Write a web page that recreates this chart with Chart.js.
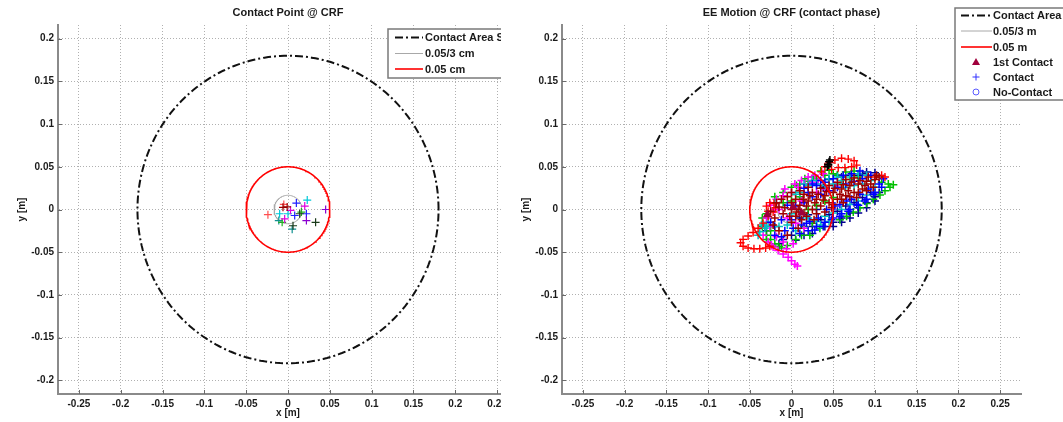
<!DOCTYPE html>
<html>
<head>
<meta charset="utf-8">
<script src="https://cdn.jsdelivr.net/npm/chart.js@4.4.1/dist/chart.umd.min.js"></script>
<style>
  html, body { margin: 0; padding: 0; background: #fff; width: 1063px; height: 422px; overflow: hidden; }
  .panel { position: absolute; top: 0; height: 422px; overflow: hidden; }
  #leftPanel { left: 0; width: 501px; }
  #rightPanel { left: 501px; width: 562px; }
  canvas { display: block; }
</style>
</head>
<body>
<div class="panel" id="leftPanel"><canvas id="leftChart" width="530" height="422"></canvas></div>
<div class="panel" id="rightPanel"><canvas id="rightChart" width="600" height="422"></canvas></div>
<script>
// axis ticks
const xTickValues = [-0.25, -0.2, -0.15, -0.1, -0.05, 0, 0.05, 0.1, 0.15, 0.2, 0.25];
const xTickLabels = ['-0.25', '-0.2', '-0.15', '-0.1', '-0.05', '0', '0.05', '0.1', '0.15', '0.2', '0.25'];
const yTickValues = [-0.2, -0.15, -0.1, -0.05, 0, 0.05, 0.1, 0.15, 0.2];
const yTickLabels = ['-0.2', '-0.15', '-0.1', '-0.05', '0', '0.05', '0.1', '0.15', '0.2'];

// reference circles (radius in m)
const contactAreaRadius = 0.18;
const smallRadius = 0.05 / 3;
const redRadius = 0.05;

// left plot: contact points
const leftRed = [[-0.024, -0.006], [-0.005, 0.006]];
const leftPurple = [[0.045, 0.0], [0.022, -0.013]];
const leftDarkGreen = [[0.033, -0.015], [0.014, -0.005], [0.006, -0.019]];
const leftCyan = [[0.023, 0.011], [-0.010, -0.005], [0.0, -0.005]];
const leftTeal = [[0.005, -0.023], [-0.011, -0.013]];
const leftBlue = [[0.010, 0.0075], [0.008, -0.007], [0.022, -0.005]];
const leftDarkRed = [[-0.001, 0.003], [-0.006, 0.0025]];
const leftMagenta = [[0.003, -0.001], [-0.004, -0.011], [0.020, 0.004]];
const leftGreen = [[0.016, -0.003], [-0.007, -0.015]];

// right plot: EE motion during contact phase
const firstContact = [[-0.029, -0.006], [0.002, 0.003], [0.012, -0.004]];
const motionBlack = [[0.043, 0.050], [0.044, 0.053], [0.045, 0.056], [0.046, 0.058], [0.044, 0.052]];
const motionDarkRed = [
  [0.0, 0.0], [0.01, 0.005], [0.02, 0.01], [0.03, 0.012], [0.04, 0.016], [0.05, 0.02], [0.06, 0.024], [0.07, 0.028], [0.08, 0.03], [0.09, 0.033], [0.1, 0.035],
  [-0.01, -0.005], [-0.015, 0.003], [0.005, 0.012], [0.015, 0.018], [0.025, 0.02], [0.035, 0.025], [0.045, 0.028], [0.055, 0.032], [0.065, 0.035], [0.075, 0.037],
  [0.005, -0.008], [0.015, -0.004], [0.025, 0.0], [0.035, 0.004], [0.045, 0.008], [0.055, 0.012], [0.065, 0.016], [0.075, 0.02], [0.085, 0.024],
  [-0.005, 0.015], [0.01, 0.022], [0.02, 0.026], [0.0, -0.015], [0.012, -0.012], [0.03, -0.005], [0.048, 0.002], [0.062, 0.008], [0.078, 0.014],
  [-0.02, -0.01], [-0.025, -0.002], [0.008, 0.0], [0.018, 0.004], [0.028, 0.008], [0.038, 0.011], [0.058, 0.018], [0.068, 0.022], [0.088, 0.028], [0.095, 0.03], [0.105, 0.038],
  [0.0, 0.008], [0.006, -0.003], [0.014, 0.012], [0.022, 0.016], [0.032, 0.018], [0.042, 0.021], [0.052, 0.025], [0.062, 0.029], [0.072, 0.032], [0.082, 0.034],
  [-0.008, 0.002], [-0.002, -0.008], [0.018, -0.008], [0.027, -0.012], [0.04, -0.003], [0.05, 0.006], [0.06, 0.012], [0.07, 0.015], [0.08, 0.02], [0.09, 0.022],
  [-0.018, 0.008], [-0.012, 0.012], [0.0, 0.02], [-0.022, -0.018], [-0.015, -0.025], [-0.005, -0.03], [0.008, -0.022], [0.092, 0.038], [0.102, 0.04], [0.098, 0.026]
];
const motionRed = [
  [-0.028, -0.008], [-0.034, -0.016], [-0.04, -0.022], [-0.046, -0.027], [-0.052, -0.031], [-0.058, -0.035], [-0.061, -0.039], [-0.058, -0.043], [-0.052, -0.045],
  [-0.045, -0.046], [-0.038, -0.046], [-0.031, -0.045], [-0.026, -0.043],
  [-0.03, 0.004], [-0.026, 0.008], [-0.021, 0.007], [-0.019, 0.002], [-0.022, -0.003], [-0.028, -0.002],
  [0.036, 0.044], [0.04, 0.05], [0.046, 0.055], [0.052, 0.058], [0.06, 0.06], [0.068, 0.059], [0.075, 0.057], [0.078, 0.052], [0.072, 0.05], [0.064, 0.049], [0.056, 0.049], [0.048, 0.047],
  [0.1, 0.038], [0.108, 0.04], [0.112, 0.038]
];
const motionBlue = [
  [0.06, -0.005], [0.07, 0.0], [0.08, 0.005], [0.09, 0.012], [0.1, 0.02], [0.05, -0.01], [0.04, -0.015], [0.03, -0.02], [0.02, -0.025], [0.01, -0.028],
  [0.065, 0.03], [0.075, 0.033], [0.085, 0.036], [0.095, 0.04], [0.055, 0.026], [0.045, 0.022], [0.035, 0.018], [0.025, 0.015], [-0.005, 0.005], [-0.012, -0.012],
  [0.072, 0.012], [0.082, 0.018], [0.092, 0.024], [0.052, 0.004], [0.042, 0.0], [0.032, -0.01], [0.022, -0.014], [0.012, -0.018], [0.002, -0.022], [-0.008, -0.025],
  [0.04, 0.032], [0.05, 0.036], [0.03, 0.028], [0.02, 0.02], [0.105, 0.03], [0.11, 0.036], [0.058, 0.006], [0.066, 0.01], [0.015, 0.008], [0.005, 0.004],
  [-0.02, -0.03], [-0.025, -0.015], [-0.012, -0.032], [0.0, -0.012], [0.018, -0.016], [0.028, -0.024], [0.038, -0.02], [0.048, -0.012], [0.058, -0.008], [0.068, -0.002],
  [0.078, 0.006], [0.088, 0.01], [0.098, 0.018], [0.108, 0.026], [0.035, 0.034], [0.025, 0.03], [0.015, 0.025], [0.062, 0.04], [0.072, 0.042], [0.082, 0.045]
];
const motionGreen = [
  [0.058, -0.012], [0.066, -0.008], [0.074, -0.003], [0.082, 0.002], [0.09, 0.007], [0.098, 0.012], [0.106, 0.017], [0.112, 0.022], [0.118, 0.026], [0.122, 0.029], [0.116, 0.03], [0.108, 0.032],
  [-0.02, 0.015], [-0.01, 0.02], [0.0, 0.026], [0.01, 0.03], [0.02, 0.033], [0.03, 0.036], [0.04, 0.04], [0.05, 0.042], [0.035, 0.045], [0.045, 0.046],
  [-0.03, -0.03], [-0.025, -0.035], [-0.02, -0.04], [-0.015, -0.043], [-0.035, -0.02], [0.005, -0.035], [0.0, 0.01], [0.01, 0.015], [0.02, 0.0], [0.03, 0.005],
  [0.06, 0.03], [0.07, 0.035], [0.08, 0.038], [0.04, 0.01], [0.05, 0.014], [-0.01, 0.008], [0.015, -0.02], [0.025, -0.016],
  [-0.03, -0.005], [-0.035, -0.01], [-0.025, -0.025], [-0.03, -0.035], [-0.012, -0.045], [-0.005, -0.042], [0.006, 0.028], [0.016, 0.036], [0.026, 0.038], [0.055, 0.04],
  [0.065, 0.044], [0.075, 0.045], [0.012, -0.03], [0.022, -0.03], [0.034, -0.022]
];
const motionCyan = [
  [-0.036, -0.018], [-0.032, -0.022], [-0.038, -0.026], [-0.028, -0.015], [0.01, 0.02], [0.02, 0.028], [0.03, 0.03], [0.04, 0.028], [0.05, 0.03], [0.06, 0.034],
  [0.07, 0.038], [0.08, 0.042], [0.09, 0.04], [0.0, -0.005], [0.01, -0.002], [0.02, -0.01], [0.03, -0.014], [0.04, -0.008], [0.05, -0.004], [0.06, 0.0],
  [0.07, 0.006], [0.08, 0.01], [0.09, 0.017], [-0.015, -0.02], [-0.005, -0.018], [0.005, 0.018], [-0.02, 0.008], [0.1, 0.026],
  [-0.04, -0.03], [-0.03, -0.02], [0.015, 0.03], [0.025, 0.034], [0.045, 0.036], [0.055, 0.038], [0.065, 0.026], [0.075, 0.028], [0.085, 0.03], [0.095, 0.034],
  [0.035, -0.018], [0.045, -0.014], [0.005, -0.025]
];
const motionMagenta = [
  [-0.03, -0.01], [-0.025, 0.005], [-0.018, 0.012], [-0.01, 0.016], [0.0, 0.02], [0.008, 0.026], [0.016, 0.03], [0.024, 0.032], [0.032, 0.034], [-0.015, 0.0],
  [-0.005, -0.01], [0.005, -0.016], [0.015, -0.022], [-0.028, -0.038], [-0.022, -0.044], [-0.016, -0.048], [-0.01, -0.052], [-0.004, -0.056], [0.0, -0.06], [0.004, -0.064],
  [0.007, -0.066], [-0.024, -0.042], [-0.018, -0.032], [-0.01, -0.038], [0.03, 0.02], [0.04, 0.024], [0.052, 0.028], [0.012, 0.01],
  [-0.032, -0.02], [-0.034, -0.03], [-0.026, -0.02], [-0.02, 0.0], [-0.008, 0.024], [0.004, 0.03], [0.012, 0.034], [0.02, 0.038], [0.028, 0.04], [0.038, 0.042],
  [-0.006, -0.046], [0.002, -0.04]
];
const motionDarkBlue = [
  [0.04, -0.02], [0.05, -0.015], [0.06, -0.01], [0.07, -0.004], [0.08, 0.002], [0.09, 0.008], [0.1, 0.015], [0.035, -0.012], [0.045, -0.006], [0.055, -0.002],
  [0.065, 0.004], [0.075, 0.008], [0.085, 0.014], [0.095, 0.02], [0.03, 0.0], [0.02, -0.006], [0.01, -0.01], [0.0, -0.03], [-0.01, -0.035], [0.015, -0.03],
  [0.025, -0.028], [0.07, 0.04], [0.08, 0.04], [0.06, 0.038], [0.09, 0.044], [0.045, 0.035], [-0.02, -0.02], [-0.03, -0.025], [0.1, 0.043], [0.038, 0.026],
  [0.05, -0.02], [0.06, -0.015], [0.07, -0.01], [0.08, -0.004], [0.09, 0.002], [0.1, 0.01], [0.105, 0.02], [0.025, -0.02], [0.005, -0.036], [-0.015, -0.04],
  [0.055, 0.04], [0.085, 0.042]
];

const FONT = '"Liberation Sans", Arial, Helvetica, sans-serif';
Chart.defaults.font.family = FONT;
Chart.defaults.color = '#1a1a1a';

function toXY(list) {
  return list.map(p => ({ x: p[0], y: p[1] }));
}

function circle(r) {
  const pts = [];
  for (let i = 0; i <= 240; i++) {
    const a = i / 240 * Math.PI * 2;
    pts.push({ x: r * Math.cos(a), y: r * Math.sin(a) });
  }
  return pts;
}

function circleSet(r, color, width, dash) {
  return {
    data: circle(r), showLine: true, pointRadius: 0, borderColor: color,
    borderWidth: width, borderDash: dash || [], fill: false, tension: 0
  };
}

function markerSet(list, color, style, size, lw) {
  return {
    data: toXY(list), pointStyle: style || 'cross', pointRadius: size || 4,
    borderColor: color, backgroundColor: color, pointBorderWidth: lw || 1.2, showLine: false
  };
}

function axis(min, max, values, labels, title, isY, yWidth, titlePad) {
  return {
    type: 'linear', min: min, max: max,
    afterBuildTicks: s => { s.ticks = values.map(v => ({ value: v })); },
    afterFit: s => { if (isY) s.width = yWidth; else s.height = 28; },
    ticks: {
      callback: (v, i) => labels[i],
      font: { size: 10, weight: 'bold' }, color: '#1a1a1a', padding: 4,
      maxRotation: 0, autoSkip: false
    },
    grid: { color: '#b0b0b0', lineWidth: 1, drawTicks: false },
    border: { display: true, color: '#8a8a8a', width: 2, dash: [1, 2] },
    title: { display: true, text: title, font: { size: 10, weight: 'bold' }, color: '#1a1a1a', padding: titlePad }
  };
}

// titles, inner tick marks and legend box drawn on top
function decor(title, legend) {
  return {
    id: 'decor',
    afterDraw(chart) {
      const { ctx, chartArea, scales } = chart;
      ctx.save();
      // inner ticks
      ctx.strokeStyle = '#6a6a6a';
      ctx.lineWidth = 1;
      ctx.beginPath();
      scales.x.ticks.forEach(t => {
        const px = Math.round(scales.x.getPixelForValue(t.value)) + 0.5;
        ctx.moveTo(px, chartArea.bottom);
        ctx.lineTo(px, chartArea.bottom - 4);
      });
      scales.y.ticks.forEach(t => {
        const py = Math.round(scales.y.getPixelForValue(t.value)) + 0.5;
        ctx.moveTo(chartArea.left, py);
        ctx.lineTo(chartArea.left + 4, py);
      });
      ctx.stroke();

      ctx.font = 'bold 11px ' + FONT;
      ctx.fillStyle = '#1a1a1a';
      ctx.textAlign = 'center';
      ctx.textBaseline = 'middle';
      ctx.fillText(title, (chartArea.left + chartArea.right) / 2, 13);

      // legend
      const b = legend.box;
      ctx.fillStyle = '#ffffff';
      ctx.fillRect(b.x, b.y, b.w, b.h);
      ctx.strokeStyle = '#7a7a7a';
      ctx.lineWidth = 1.5;
      ctx.strokeRect(b.x, b.y, b.w, b.h);
      ctx.textAlign = 'left';
      ctx.font = 'bold 11px ' + FONT;
      legend.items.forEach(it => {
        const y = it.y;
        ctx.setLineDash(it.dash || []);
        if (it.kind === 'line') {
          ctx.strokeStyle = it.color;
          ctx.lineWidth = it.width;
          ctx.beginPath();
          ctx.moveTo(legend.lineX0, y);
          ctx.lineTo(legend.lineX1, y);
          ctx.stroke();
        } else if (it.kind === 'triangle') {
          ctx.fillStyle = it.color;
          ctx.beginPath();
          ctx.moveTo(legend.markX, y - 4);
          ctx.lineTo(legend.markX + 4, y + 3);
          ctx.lineTo(legend.markX - 4, y + 3);
          ctx.closePath();
          ctx.fill();
        } else if (it.kind === 'plus') {
          ctx.strokeStyle = it.color;
          ctx.lineWidth = 1;
          ctx.beginPath();
          ctx.moveTo(legend.markX - 3.5, y); ctx.lineTo(legend.markX + 3.5, y);
          ctx.moveTo(legend.markX, y - 3.5); ctx.lineTo(legend.markX, y + 3.5);
          ctx.stroke();
        } else if (it.kind === 'ring') {
          ctx.strokeStyle = it.color;
          ctx.lineWidth = 1;
          ctx.beginPath();
          ctx.arc(legend.markX, y, 3, 0, Math.PI * 2);
          ctx.stroke();
        }
        ctx.setLineDash([]);
        ctx.fillStyle = '#1a1a1a';
        ctx.fillText(it.label, legend.textX, y + 0.5);
      });
      ctx.restore();
    }
  };
}

function makeChart(id, datasets, yWidth, rightPad, yTitlePad, title, legend) {
  return new Chart(document.getElementById(id), {
    type: 'scatter',
    data: { datasets: datasets },
    options: {
      responsive: false,
      animation: false,
      events: [],
      layout: { padding: { top: 25, right: rightPad, left: 0, bottom: 0 } },
      plugins: { legend: { display: false }, tooltip: { enabled: false }, title: { display: false } },
      scales: {
        x: axis(-0.275, 0.275, xTickValues, xTickLabels, 'x [m]', false, 0, { top: 0, bottom: 3 }),
        y: axis(-0.216, 0.216, yTickValues, yTickLabels, 'y [m]', true, yWidth, { top: yTitlePad, bottom: 0 })
      }
    },
    plugins: [decor(title, legend)]
  });
}

const DASHDOT = [8, 3, 2, 3];

makeChart('leftChart', [
  circleSet(contactAreaRadius, '#111111', 2, DASHDOT),
  circleSet(redRadius, '#ff0000', 1.6),
  markerSet(leftDarkRed, '#990000'),
  markerSet(leftRed, '#ff5050'),
  markerSet(leftPurple, '#8a00d0'),
  markerSet(leftDarkGreen, '#1a3a1a'),
  markerSet(leftBlue, '#2020ff'),
  markerSet(leftMagenta, '#e000e0'),
  markerSet(leftGreen, '#20b020'),
  markerSet(leftCyan, '#00c8d8'),
  markerSet(leftTeal, '#109090'),
  circleSet(smallRadius, '#a8a8a8', 1)
], 58, 12, 16, 'Contact Point @ CRF', {
  box: { x: 388, y: 29, w: 200, h: 49 },
  lineX0: 395, lineX1: 423, markX: 409, textX: 425,
  items: [
    { kind: 'line', label: 'Contact Area Surface', color: '#111111', width: 2, dash: DASHDOT, y: 37.5 },
    { kind: 'line', label: '0.05/3 cm', color: '#a8a8a8', width: 1, y: 53.5 },
    { kind: 'line', label: '0.05 cm', color: '#ff0000', width: 1.6, y: 69 }
  ]
});

makeChart('rightChart', [
  circleSet(contactAreaRadius, '#111111', 2, DASHDOT),
  circleSet(redRadius, '#ff0000', 1.6),
  markerSet(firstContact, '#a0003c', 'triangle'),
  markerSet(motionBlack, '#000000', 'cross', 4, 1.5),
  markerSet(motionDarkRed, '#a00000', 'cross', 4, 1.5),
  markerSet(motionRed, '#ff0000', 'cross', 4, 1.4),
  markerSet(motionBlue, '#0000ff', 'cross', 4, 1.5),
  markerSet(motionCyan, '#00c0c0', 'cross', 4, 1.5),
  markerSet(motionMagenta, '#ff00ff', 'cross', 4, 1.5),
  markerSet(motionGreen, '#00c000', 'cross', 4, 1.5),
  markerSet(motionDarkBlue, '#000090', 'cross', 4, 1.5),
  circleSet(smallRadius, '#a8a8a8', 1)
], 61, 80, 19, 'EE Motion @ CRF (contact phase)', {
  box: { x: 454, y: 8, w: 200, h: 92 },
  lineX0: 460, lineX1: 491, markX: 475, textX: 492,
  items: [
    { kind: 'line', label: 'Contact Area Surface', color: '#111111', width: 2, dash: DASHDOT, y: 15.5 },
    { kind: 'line', label: '0.05/3 m', color: '#a8a8a8', width: 1, y: 31 },
    { kind: 'line', label: '0.05 m', color: '#ff0000', width: 1.6, y: 47 },
    { kind: 'triangle', label: '1st Contact', color: '#a0003c', y: 62 },
    { kind: 'plus', label: 'Contact', color: '#3030ff', y: 77 },
    { kind: 'ring', label: 'No-Contact', color: '#5a5aff', y: 92 }
  ]
});
</script>
</body>
</html>
